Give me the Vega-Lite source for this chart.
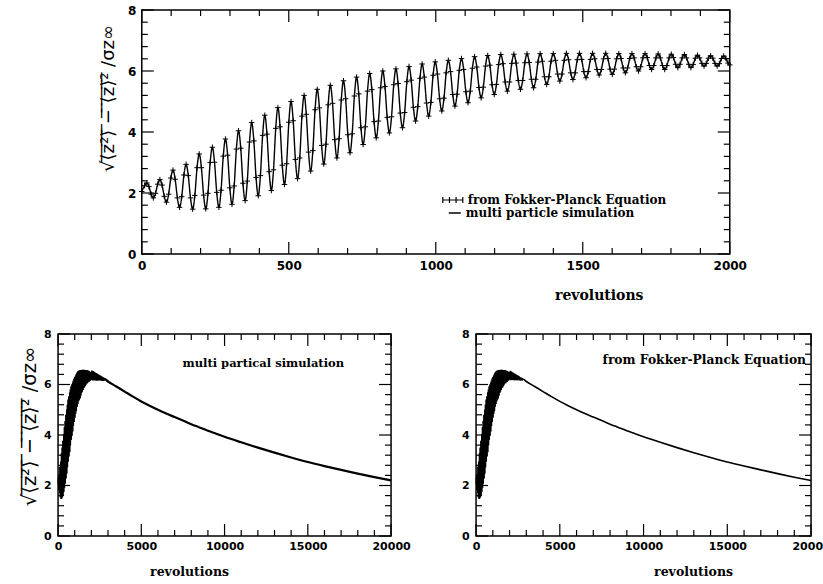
{
"$schema":"https://vega.github.io/schema/vega-lite/v6.json",
"background":"white",
"padding":{"left":18,"top":3,"right":0,"bottom":0},
"config":{
"view":{"stroke":"black","strokeWidth":1.5},
"axis":{"domain":false,"ticks":false,"grid":false,"labelFont":"DejaVu Sans","labelFontWeight":"bold","labelColor":"black","labelFontSize":12,"labelFlush":false,"labelOverlap":false,"titleFont":"DejaVu Serif","titleFontWeight":"bold","titleFontSize":12.5,"titleColor":"black"},
"legend":{"labelFont":"DejaVu Serif","labelFontWeight":"bold","labelFontSize":12,"labelColor":"black","padding":0,"rowPadding":0,"labelLimit":0,"labelOffset":4},
"title":{"font":"DejaVu Serif","fontWeight":"bold","fontSize":12,"color":"black"}
},
"datasets":{
"xmajT":[{"t":0},{"t":500},{"t":1000},{"t":1500},{"t":2000}],
"xminT":[{"t":100},{"t":200},{"t":300},{"t":400},{"t":600},{"t":700},{"t":800},{"t":900},{"t":1100},{"t":1200},{"t":1300},{"t":1400},{"t":1600},{"t":1700},{"t":1800},{"t":1900}],
"xmajB":[{"t":0},{"t":5000},{"t":10000},{"t":15000},{"t":20000}],
"xminB":[{"t":1000},{"t":2000},{"t":3000},{"t":4000},{"t":6000},{"t":7000},{"t":8000},{"t":9000},{"t":11000},{"t":12000},{"t":13000},{"t":14000},{"t":16000},{"t":17000},{"t":18000},{"t":19000}],
"ymaj":[{"v":0},{"v":2},{"v":4},{"v":6},{"v":8}],
"ymin":[{"v":0.4},{"v":0.8},{"v":1.2},{"v":1.6},{"v":2.4},{"v":2.8},{"v":3.2},{"v":3.6},{"v":4.4},{"v":4.8},{"v":5.2},{"v":5.6},{"v":6.4},{"v":6.8},{"v":7.2},{"v":7.6}],
"early":[
{"r":0,"y":2.05},{"r":9.6,"y":2.24},
{"r":17,"y":2.33},{"r":24.4,"y":2.21},{"r":31.9,"y":1.96},{"r":39.3,"y":1.84},{"r":46.7,"y":1.99},{"r":54.2,"y":2.29},
{"r":61.6,"y":2.44},{"r":69,"y":2.26},{"r":76.5,"y":1.89},{"r":83.9,"y":1.7},{"r":91.3,"y":1.96},{"r":98.8,"y":2.49},
{"r":106.2,"y":2.75},{"r":113.6,"y":2.45},{"r":121.1,"y":1.84},{"r":128.5,"y":1.53},{"r":135.9,"y":1.88},{"r":143.4,"y":2.59},
{"r":150.8,"y":2.94},{"r":158.2,"y":2.57},{"r":165.7,"y":1.84},{"r":173.1,"y":1.47},{"r":180.5,"y":1.92},{"r":188,"y":2.83},
{"r":195.4,"y":3.28},{"r":202.8,"y":2.83},{"r":210.3,"y":1.93},{"r":217.7,"y":1.48},{"r":225.1,"y":1.99},{"r":232.6,"y":3.0},
{"r":240,"y":3.5},{"r":247.4,"y":3.01},{"r":254.9,"y":2.02},{"r":262.3,"y":1.53},{"r":269.7,"y":2.09},{"r":277.2,"y":3.21},
{"r":284.6,"y":3.77},{"r":292,"y":3.24},{"r":299.5,"y":2.17},{"r":306.9,"y":1.63},{"r":314.3,"y":2.23},{"r":321.8,"y":3.44},
{"r":329.2,"y":4.04},{"r":336.6,"y":3.47},{"r":344.1,"y":2.32},{"r":351.5,"y":1.75},{"r":358.9,"y":2.39},{"r":366.4,"y":3.67},
{"r":373.8,"y":4.31},{"r":381.2,"y":3.71},{"r":388.7,"y":2.51},{"r":396.1,"y":1.91},{"r":403.5,"y":2.57},{"r":411,"y":3.89},
{"r":418.4,"y":4.55},{"r":425.8,"y":3.93},{"r":433.3,"y":2.7},{"r":440.7,"y":2.08},{"r":448.1,"y":2.76},{"r":455.6,"y":4.12},
{"r":463,"y":4.8},{"r":470.4,"y":4.17},{"r":477.9,"y":2.91},{"r":485.3,"y":2.28},{"r":492.7,"y":2.96},{"r":500.2,"y":4.32},
{"r":507.6,"y":5.0},{"r":515,"y":4.37},{"r":522.5,"y":3.1},{"r":529.9,"y":2.47},{"r":537.3,"y":3.15},{"r":544.8,"y":4.52},
{"r":552.2,"y":5.2},{"r":559.6,"y":4.58},{"r":567.1,"y":3.34},{"r":574.5,"y":2.72},{"r":581.9,"y":3.39},{"r":589.4,"y":4.73},
{"r":596.8,"y":5.4},{"r":604.2,"y":4.79},{"r":611.7,"y":3.56},{"r":619.1,"y":2.95},{"r":626.5,"y":3.6},{"r":634,"y":4.89},
{"r":641.4,"y":5.53},{"r":648.8,"y":4.94},{"r":656.3,"y":3.75},{"r":663.7,"y":3.15},{"r":671.1,"y":3.78},{"r":678.6,"y":5.05},
{"r":686,"y":5.68},{"r":693.4,"y":5.09},{"r":700.9,"y":3.91},{"r":708.3,"y":3.32},{"r":715.7,"y":3.94},{"r":723.2,"y":5.18},
{"r":730.6,"y":5.8},{"r":738,"y":5.25},{"r":745.5,"y":4.14},{"r":752.9,"y":3.59},{"r":760.3,"y":4.17},{"r":767.8,"y":5.34},
{"r":775.2,"y":5.92},{"r":782.6,"y":5.39},{"r":790.1,"y":4.34},{"r":797.5,"y":3.81},{"r":804.9,"y":4.36},{"r":812.4,"y":5.45},
{"r":819.8,"y":6.0},{"r":827.2,"y":5.49},{"r":834.7,"y":4.48},{"r":842.1,"y":3.97},{"r":849.5,"y":4.5},{"r":857,"y":5.55},
{"r":864.4,"y":6.07},{"r":871.8,"y":5.59},{"r":879.3,"y":4.62},{"r":886.7,"y":4.14},{"r":894.1,"y":4.64},{"r":901.6,"y":5.65},
{"r":909,"y":6.15},{"r":916.4,"y":5.7},{"r":923.9,"y":4.81},{"r":931.3,"y":4.36},{"r":938.7,"y":4.83},{"r":946.2,"y":5.76},
{"r":953.6,"y":6.23},{"r":961,"y":5.8},{"r":968.5,"y":4.95},{"r":975.9,"y":4.52},{"r":983.3,"y":4.97},{"r":990.8,"y":5.86},
{"r":998.2,"y":6.3},{"r":1005.6,"y":5.9},{"r":1013.1,"y":5.09},{"r":1020.5,"y":4.69},{"r":1027.9,"y":5.11},{"r":1035.4,"y":5.94},
{"r":1042.8,"y":6.35},{"r":1050.2,"y":5.98},{"r":1057.7,"y":5.23},{"r":1065.1,"y":4.85},{"r":1072.5,"y":5.24},{"r":1080,"y":6.02},
{"r":1087.4,"y":6.41},{"r":1094.8,"y":6.05},{"r":1102.3,"y":5.32},{"r":1109.7,"y":4.96},{"r":1117.1,"y":5.34},{"r":1124.6,"y":6.09},
{"r":1132,"y":6.47},{"r":1139.4,"y":6.13},{"r":1146.9,"y":5.46},{"r":1154.3,"y":5.12},{"r":1161.7,"y":5.47},{"r":1169.2,"y":6.16},
{"r":1176.6,"y":6.51},{"r":1184,"y":6.19},{"r":1191.5,"y":5.55},{"r":1198.9,"y":5.23},{"r":1206.3,"y":5.56},{"r":1213.8,"y":6.21},
{"r":1221.2,"y":6.54},{"r":1228.6,"y":6.24},{"r":1236.1,"y":5.64},{"r":1243.5,"y":5.34},{"r":1250.9,"y":5.64},{"r":1258.4,"y":6.25},
{"r":1265.8,"y":6.55},{"r":1273.2,"y":6.26},{"r":1280.7,"y":5.69},{"r":1288.1,"y":5.4},{"r":1295.5,"y":5.69},{"r":1303,"y":6.27},
{"r":1310.4,"y":6.56},{"r":1317.8,"y":6.28},{"r":1325.3,"y":5.73},{"r":1332.7,"y":5.45},{"r":1340.1,"y":5.73},{"r":1347.6,"y":6.29},
{"r":1355,"y":6.57},{"r":1362.4,"y":6.32},{"r":1369.9,"y":5.81},{"r":1377.3,"y":5.56},{"r":1384.7,"y":5.81},{"r":1392.2,"y":6.32},
{"r":1399.6,"y":6.57},{"r":1407,"y":6.35},{"r":1414.5,"y":5.9},{"r":1421.9,"y":5.67},{"r":1429.3,"y":5.9},{"r":1436.8,"y":6.35},
{"r":1444.2,"y":6.58},{"r":1451.6,"y":6.37},{"r":1459.1,"y":5.94},{"r":1466.5,"y":5.72},{"r":1473.9,"y":5.94},{"r":1481.4,"y":6.37},
{"r":1488.8,"y":6.58},{"r":1496.2,"y":6.38},{"r":1503.7,"y":5.98},{"r":1511.1,"y":5.78},{"r":1518.5,"y":5.98},{"r":1526,"y":6.38},
{"r":1533.4,"y":6.58},{"r":1540.8,"y":6.4},{"r":1548.3,"y":6.05},{"r":1555.7,"y":5.87},{"r":1563.1,"y":6.05},{"r":1570.6,"y":6.4},
{"r":1578,"y":6.58},{"r":1585.4,"y":6.41},{"r":1592.9,"y":6.06},{"r":1600.3,"y":5.89},{"r":1607.7,"y":6.06},{"r":1615.2,"y":6.4},
{"r":1622.6,"y":6.57},{"r":1630,"y":6.41},{"r":1637.5,"y":6.1},{"r":1644.9,"y":5.94},{"r":1652.3,"y":6.1},{"r":1659.8,"y":6.41},
{"r":1667.2,"y":6.57},{"r":1674.6,"y":6.43},{"r":1682.1,"y":6.14},{"r":1689.5,"y":6.0},{"r":1696.9,"y":6.14},{"r":1704.4,"y":6.43},
{"r":1711.8,"y":6.57},{"r":1719.2,"y":6.44},{"r":1726.7,"y":6.18},{"r":1734.1,"y":6.05},{"r":1741.5,"y":6.18},{"r":1749,"y":6.43},
{"r":1756.4,"y":6.56},{"r":1763.8,"y":6.43},{"r":1771.3,"y":6.18},{"r":1778.7,"y":6.05},{"r":1786.1,"y":6.18},{"r":1793.6,"y":6.43},
{"r":1801,"y":6.55},{"r":1808.4,"y":6.44},{"r":1815.9,"y":6.22},{"r":1823.3,"y":6.11},{"r":1830.7,"y":6.22},{"r":1838.2,"y":6.43},
{"r":1845.6,"y":6.54},{"r":1853,"y":6.43},{"r":1860.5,"y":6.22},{"r":1867.9,"y":6.11},{"r":1875.3,"y":6.21},{"r":1882.8,"y":6.42},
{"r":1890.2,"y":6.52},{"r":1897.6,"y":6.43},{"r":1905.1,"y":6.25},{"r":1912.5,"y":6.16},{"r":1919.9,"y":6.25},{"r":1927.4,"y":6.42},
{"r":1934.8,"y":6.5},{"r":1942.2,"y":6.42},{"r":1949.7,"y":6.25},{"r":1957.1,"y":6.16},{"r":1964.5,"y":6.24},{"r":1972,"y":6.41},
{"r":1979.4,"y":6.49},{"r":1986.8,"y":6.41},{"r":1994.3,"y":6.26},{"r":2000,"y":6.2}
],
"tail":[
{"r":2000,"y":6.2},{"r":2024,"y":6.52},{"r":2046.3,"y":6.2},{"r":2068.6,"y":6.5},{"r":2090.9,"y":6.2},{"r":2113.2,"y":6.49},{"r":2135.5,"y":6.2},{"r":2157.8,"y":6.47},{"r":2180.1,"y":6.2},{"r":2202.4,"y":6.45},{"r":2224.7,"y":6.2},{"r":2247,"y":6.43},{"r":2269.3,"y":6.19},{"r":2291.6,"y":6.41},{"r":2313.9,"y":6.19},{"r":2336.2,"y":6.4},{"r":2358.5,"y":6.19},{"r":2380.8,"y":6.38},{"r":2403.1,"y":6.19},{"r":2425.4,"y":6.36},{"r":2447.7,"y":6.19},{"r":2470,"y":6.34},{"r":2492.3,"y":6.19},{"r":2514.6,"y":6.33},{"r":2536.9,"y":6.19},{"r":2559.2,"y":6.31},{"r":2581.5,"y":6.19},{"r":2603.8,"y":6.29},{"r":2626.1,"y":6.18},{"r":2648.4,"y":6.27},{"r":2670.7,"y":6.18},{"r":2693,"y":6.26},{"r":2715.3,"y":6.18},{"r":2737.6,"y":6.24},{"r":2759.9,"y":6.18},{"r":2782.2,"y":6.22},
{"r":3000,"y":6.12},{"r":3500,"y":5.92},{"r":4000,"y":5.72},{"r":4500,"y":5.52},{"r":5000,"y":5.33},{"r":5500,"y":5.16},{"r":6000,"y":5.0},{"r":6500,"y":4.85},{"r":7000,"y":4.71},{"r":7500,"y":4.57},{"r":8000,"y":4.43},{"r":8500,"y":4.3},{"r":9000,"y":4.17},{"r":9500,"y":4.05},{"r":10000,"y":3.93},{"r":11000,"y":3.71},{"r":12000,"y":3.5},{"r":13000,"y":3.3},{"r":14000,"y":3.11},{"r":15000,"y":2.93},{"r":16000,"y":2.77},{"r":17000,"y":2.62},{"r":18000,"y":2.47},{"r":19000,"y":2.33},{"r":20000,"y":2.2}
]
},
"spacing":24,
"center":true,
"resolve":{"legend":{"shape":"independent","strokeDash":"independent"}},
"vconcat":[
{
"width":588,"height":244,
"layer":[
{"data":{"name":"early"},"mark":{"type":"line","color":"black","strokeWidth":1.4,"interpolate":"monotone"},
"encoding":{
"x":{"field":"r","type":"quantitative","scale":{"domain":[0,2000],"nice":false,"zero":false},"axis":{"orient":"bottom","values":[0,500,1000,1500,2000],"labelPadding":6,"format":"d","title":"revolutions","titleX":457,"titleY":34,"titleAlign":"center","titleBaseline":"top","titleFontSize":14}},
"y":{"field":"y","type":"quantitative","scale":{"domain":[0,8],"nice":false,"zero":false},"axis":{"orient":"left","values":[0,2,4,6,8],"labelPadding":6,"format":"d","title":"\u221A\u27E8\u0305z\u0305\u00B2\u0305\u27E9\u0305 \u0305\u2212\u0305 \u0305\u27E8\u0305z\u0305\u27E9\u0305\u00B2\u0305 /\u03C3z\u221E","titleX":-33,"titleY":88,"titleAlign":"center","titleBaseline":"middle","titleFont":"DejaVu Sans","titleFontWeight":"normal","titleFontSize":18}},
"strokeDash":{"datum":"multi particle simulation","scale":{"range":[[1,0]]},"legend":{"orient":"none","legendX":306,"legendY":196,"title":null,"symbolType":"stroke","symbolSize":144,"symbolStrokeWidth":1.5,"symbolStrokeColor":"black"}}
}},
{"data":{"name":"early"},"mark":{"type":"point","color":"black","filled":false,"strokeWidth":1,"size":30,"opacity":1,"shape":"M-1,0H1M0,-1V1"},
"encoding":{
"x":{"field":"r","type":"quantitative","scale":{"domain":[0,2000],"nice":false,"zero":false},"axis":{"orient":"top","values":[0,500,1000,1500,2000],"labels":false,"title":null}},
"y":{"field":"y","type":"quantitative","scale":{"domain":[0,8],"nice":false,"zero":false},"axis":{"orient":"right","values":[0,2,4,6,8],"labels":false,"title":null}}
}},
{"data":{"name":"early"},"mark":{"type":"point","opacity":0,"filled":false},
"encoding":{
"x":{"field":"r","type":"quantitative","scale":{"domain":[0,2000],"nice":false,"zero":false},"axis":null},
"y":{"field":"y","type":"quantitative","scale":{"domain":[0,8],"nice":false,"zero":false},"axis":null},
"shape":{"datum":"from Fokker-Planck Equation","scale":{"range":["M-1,0H1M-1,-0.3V0.3M-0.33,-0.3V0.3M0.33,-0.3V0.3M1,-0.3V0.3"]},"legend":{"orient":"none","legendX":300,"legendY":179,"title":null,"symbolSize":400,"symbolOpacity":1,"symbolStrokeWidth":1.2,"symbolStrokeColor":"black","symbolFillColor":"transparent"}}
}},
{"data":{"name":"xmajT"},"mark":{"type":"point","shape":"M0,0V-1","size":576,"filled":false,"color":"black","strokeWidth":1.2,"opacity":1},"encoding":{"x":{"field":"t","type":"quantitative","scale":{"domain":[0,2000],"nice":false,"zero":false},"axis":null},"y":{"datum":0,"type":"quantitative","scale":{"domain":[0,8],"nice":false,"zero":false},"axis":null}}},
{"data":{"name":"xmajT"},"mark":{"type":"point","shape":"M0,0V1","size":576,"filled":false,"color":"black","strokeWidth":1.2,"opacity":1},"encoding":{"x":{"field":"t","type":"quantitative","scale":{"domain":[0,2000],"nice":false,"zero":false},"axis":null},"y":{"datum":8,"type":"quantitative","scale":{"domain":[0,8],"nice":false,"zero":false},"axis":null}}},
{"data":{"name":"xminT"},"mark":{"type":"point","shape":"M0,0V-1","size":144,"filled":false,"color":"black","strokeWidth":1.2,"opacity":1},"encoding":{"x":{"field":"t","type":"quantitative","scale":{"domain":[0,2000],"nice":false,"zero":false},"axis":null},"y":{"datum":0,"type":"quantitative","scale":{"domain":[0,8],"nice":false,"zero":false},"axis":null}}},
{"data":{"name":"xminT"},"mark":{"type":"point","shape":"M0,0V1","size":144,"filled":false,"color":"black","strokeWidth":1.2,"opacity":1},"encoding":{"x":{"field":"t","type":"quantitative","scale":{"domain":[0,2000],"nice":false,"zero":false},"axis":null},"y":{"datum":8,"type":"quantitative","scale":{"domain":[0,8],"nice":false,"zero":false},"axis":null}}},
{"data":{"name":"ymaj"},"mark":{"type":"point","shape":"M0,0H1","size":576,"filled":false,"color":"black","strokeWidth":1.2,"opacity":1},"encoding":{"x":{"datum":0,"type":"quantitative","scale":{"domain":[0,2000],"nice":false,"zero":false},"axis":null},"y":{"field":"v","type":"quantitative","scale":{"domain":[0,8],"nice":false,"zero":false},"axis":null}}},
{"data":{"name":"ymaj"},"mark":{"type":"point","shape":"M0,0H-1","size":576,"filled":false,"color":"black","strokeWidth":1.2,"opacity":1},"encoding":{"x":{"datum":2000,"type":"quantitative","scale":{"domain":[0,2000],"nice":false,"zero":false},"axis":null},"y":{"field":"v","type":"quantitative","scale":{"domain":[0,8],"nice":false,"zero":false},"axis":null}}},
{"data":{"name":"ymin"},"mark":{"type":"point","shape":"M0,0H1","size":144,"filled":false,"color":"black","strokeWidth":1.2,"opacity":1},"encoding":{"x":{"datum":0,"type":"quantitative","scale":{"domain":[0,2000],"nice":false,"zero":false},"axis":null},"y":{"field":"v","type":"quantitative","scale":{"domain":[0,8],"nice":false,"zero":false},"axis":null}}},
{"data":{"name":"ymin"},"mark":{"type":"point","shape":"M0,0H-1","size":144,"filled":false,"color":"black","strokeWidth":1.2,"opacity":1},"encoding":{"x":{"datum":2000,"type":"quantitative","scale":{"domain":[0,2000],"nice":false,"zero":false},"axis":null},"y":{"field":"v","type":"quantitative","scale":{"domain":[0,8],"nice":false,"zero":false},"axis":null}}}
]
},
{
"spacing":49,
"hconcat":[
{
"width":333,"height":202,
"title":{"text":"multi partical simulation","anchor":"end","frame":"group","orient":"top","offset":0,"dx":-47,"dy":50,"baseline":"alphabetic","fontSize":11.5},
"layer":[
{"data":{"name":"early"},"mark":{"type":"line","color":"black","strokeWidth":1},
"encoding":{
"x":{"field":"r","type":"quantitative","scale":{"domain":[0,20000],"nice":false,"zero":false},"axis":{"orient":"bottom","values":[0,5000,10000,15000,20000],"labelPadding":4,"labelFontSize":11,"format":"d","title":"revolutions","titleX":131,"titleY":29,"titleAlign":"center","titleBaseline":"top"}},
"y":{"field":"y","type":"quantitative","scale":{"domain":[0,8],"nice":false,"zero":false},"axis":{"orient":"left","values":[0,2,4,6,8],"labelPadding":7,"labelFontSize":11,"format":"d","title":"\u221A\u27E8\u0305z\u0305\u00B2\u0305\u27E9\u0305 \u0305\u2212\u0305 \u0305\u27E8\u0305z\u0305\u27E9\u0305\u00B2\u0305 /\u03C3z\u221E","titleX":-29,"titleY":92,"titleAlign":"center","titleBaseline":"middle","titleFont":"DejaVu Sans","titleFontWeight":"normal","titleFontSize":19.5}}
}},
{"data":{"name":"tail"},"mark":{"type":"line","color":"black","strokeWidth":2.2,"interpolate":"monotone"},
"encoding":{
"x":{"field":"r","type":"quantitative","scale":{"domain":[0,20000],"nice":false,"zero":false},"axis":{"orient":"top","values":[0,5000,10000,15000,20000],"labels":false,"title":null}},
"y":{"field":"y","type":"quantitative","scale":{"domain":[0,8],"nice":false,"zero":false},"axis":{"orient":"right","values":[0,2,4,6,8],"labels":false,"title":null}}
}},
{"data":{"name":"xmajB"},"mark":{"type":"point","shape":"M0,0V-1","size":576,"filled":false,"color":"black","strokeWidth":1.2,"opacity":1},"encoding":{"x":{"field":"t","type":"quantitative","scale":{"domain":[0,20000],"nice":false,"zero":false},"axis":null},"y":{"datum":0,"type":"quantitative","scale":{"domain":[0,8],"nice":false,"zero":false},"axis":null}}},
{"data":{"name":"xmajB"},"mark":{"type":"point","shape":"M0,0V1","size":576,"filled":false,"color":"black","strokeWidth":1.2,"opacity":1},"encoding":{"x":{"field":"t","type":"quantitative","scale":{"domain":[0,20000],"nice":false,"zero":false},"axis":null},"y":{"datum":8,"type":"quantitative","scale":{"domain":[0,8],"nice":false,"zero":false},"axis":null}}},
{"data":{"name":"xminB"},"mark":{"type":"point","shape":"M0,0V-1","size":144,"filled":false,"color":"black","strokeWidth":1.2,"opacity":1},"encoding":{"x":{"field":"t","type":"quantitative","scale":{"domain":[0,20000],"nice":false,"zero":false},"axis":null},"y":{"datum":0,"type":"quantitative","scale":{"domain":[0,8],"nice":false,"zero":false},"axis":null}}},
{"data":{"name":"xminB"},"mark":{"type":"point","shape":"M0,0V1","size":144,"filled":false,"color":"black","strokeWidth":1.2,"opacity":1},"encoding":{"x":{"field":"t","type":"quantitative","scale":{"domain":[0,20000],"nice":false,"zero":false},"axis":null},"y":{"datum":8,"type":"quantitative","scale":{"domain":[0,8],"nice":false,"zero":false},"axis":null}}},
{"data":{"name":"ymaj"},"mark":{"type":"point","shape":"M0,0H1","size":576,"filled":false,"color":"black","strokeWidth":1.2,"opacity":1},"encoding":{"x":{"datum":0,"type":"quantitative","scale":{"domain":[0,20000],"nice":false,"zero":false},"axis":null},"y":{"field":"v","type":"quantitative","scale":{"domain":[0,8],"nice":false,"zero":false},"axis":null}}},
{"data":{"name":"ymaj"},"mark":{"type":"point","shape":"M0,0H-1","size":576,"filled":false,"color":"black","strokeWidth":1.2,"opacity":1},"encoding":{"x":{"datum":20000,"type":"quantitative","scale":{"domain":[0,20000],"nice":false,"zero":false},"axis":null},"y":{"field":"v","type":"quantitative","scale":{"domain":[0,8],"nice":false,"zero":false},"axis":null}}},
{"data":{"name":"ymin"},"mark":{"type":"point","shape":"M0,0H1","size":144,"filled":false,"color":"black","strokeWidth":1.2,"opacity":1},"encoding":{"x":{"datum":0,"type":"quantitative","scale":{"domain":[0,20000],"nice":false,"zero":false},"axis":null},"y":{"field":"v","type":"quantitative","scale":{"domain":[0,8],"nice":false,"zero":false},"axis":null}}},
{"data":{"name":"ymin"},"mark":{"type":"point","shape":"M0,0H-1","size":144,"filled":false,"color":"black","strokeWidth":1.2,"opacity":1},"encoding":{"x":{"datum":20000,"type":"quantitative","scale":{"domain":[0,20000],"nice":false,"zero":false},"axis":null},"y":{"field":"v","type":"quantitative","scale":{"domain":[0,8],"nice":false,"zero":false},"axis":null}}}
]
},
{
"width":335,"height":202,
"title":{"text":"from Fokker-Planck Equation","anchor":"end","frame":"group","orient":"top","offset":0,"dx":-5,"dy":48,"baseline":"alphabetic","fontSize":12.3},
"layer":[
{"data":{"name":"early"},"mark":{"type":"line","color":"black","strokeWidth":1},
"encoding":{
"x":{"field":"r","type":"quantitative","scale":{"domain":[0,20000],"nice":false,"zero":false},"axis":{"orient":"bottom","values":[0,5000,10000,15000,20000],"labelPadding":4,"labelFontSize":11,"format":"d","title":"revolutions","titleX":217,"titleY":29,"titleAlign":"center","titleBaseline":"top"}},
"y":{"field":"y","type":"quantitative","scale":{"domain":[0,8],"nice":false,"zero":false},"axis":{"orient":"left","values":[0,2,4,6,8],"labelPadding":7,"labelFontSize":11,"format":"d","title":null}}
}},
{"data":{"name":"tail"},"mark":{"type":"line","color":"black","strokeWidth":1.6,"interpolate":"monotone"},
"encoding":{
"x":{"field":"r","type":"quantitative","scale":{"domain":[0,20000],"nice":false,"zero":false},"axis":{"orient":"top","values":[0,5000,10000,15000,20000],"labels":false,"title":null}},
"y":{"field":"y","type":"quantitative","scale":{"domain":[0,8],"nice":false,"zero":false},"axis":{"orient":"right","values":[0,2,4,6,8],"labels":false,"title":null}}
}},
{"data":{"name":"xmajB"},"mark":{"type":"point","shape":"M0,0V-1","size":576,"filled":false,"color":"black","strokeWidth":1.2,"opacity":1},"encoding":{"x":{"field":"t","type":"quantitative","scale":{"domain":[0,20000],"nice":false,"zero":false},"axis":null},"y":{"datum":0,"type":"quantitative","scale":{"domain":[0,8],"nice":false,"zero":false},"axis":null}}},
{"data":{"name":"xmajB"},"mark":{"type":"point","shape":"M0,0V1","size":576,"filled":false,"color":"black","strokeWidth":1.2,"opacity":1},"encoding":{"x":{"field":"t","type":"quantitative","scale":{"domain":[0,20000],"nice":false,"zero":false},"axis":null},"y":{"datum":8,"type":"quantitative","scale":{"domain":[0,8],"nice":false,"zero":false},"axis":null}}},
{"data":{"name":"xminB"},"mark":{"type":"point","shape":"M0,0V-1","size":144,"filled":false,"color":"black","strokeWidth":1.2,"opacity":1},"encoding":{"x":{"field":"t","type":"quantitative","scale":{"domain":[0,20000],"nice":false,"zero":false},"axis":null},"y":{"datum":0,"type":"quantitative","scale":{"domain":[0,8],"nice":false,"zero":false},"axis":null}}},
{"data":{"name":"xminB"},"mark":{"type":"point","shape":"M0,0V1","size":144,"filled":false,"color":"black","strokeWidth":1.2,"opacity":1},"encoding":{"x":{"field":"t","type":"quantitative","scale":{"domain":[0,20000],"nice":false,"zero":false},"axis":null},"y":{"datum":8,"type":"quantitative","scale":{"domain":[0,8],"nice":false,"zero":false},"axis":null}}},
{"data":{"name":"ymaj"},"mark":{"type":"point","shape":"M0,0H1","size":576,"filled":false,"color":"black","strokeWidth":1.2,"opacity":1},"encoding":{"x":{"datum":0,"type":"quantitative","scale":{"domain":[0,20000],"nice":false,"zero":false},"axis":null},"y":{"field":"v","type":"quantitative","scale":{"domain":[0,8],"nice":false,"zero":false},"axis":null}}},
{"data":{"name":"ymaj"},"mark":{"type":"point","shape":"M0,0H-1","size":576,"filled":false,"color":"black","strokeWidth":1.2,"opacity":1},"encoding":{"x":{"datum":20000,"type":"quantitative","scale":{"domain":[0,20000],"nice":false,"zero":false},"axis":null},"y":{"field":"v","type":"quantitative","scale":{"domain":[0,8],"nice":false,"zero":false},"axis":null}}},
{"data":{"name":"ymin"},"mark":{"type":"point","shape":"M0,0H1","size":144,"filled":false,"color":"black","strokeWidth":1.2,"opacity":1},"encoding":{"x":{"datum":0,"type":"quantitative","scale":{"domain":[0,20000],"nice":false,"zero":false},"axis":null},"y":{"field":"v","type":"quantitative","scale":{"domain":[0,8],"nice":false,"zero":false},"axis":null}}},
{"data":{"name":"ymin"},"mark":{"type":"point","shape":"M0,0H-1","size":144,"filled":false,"color":"black","strokeWidth":1.2,"opacity":1},"encoding":{"x":{"datum":20000,"type":"quantitative","scale":{"domain":[0,20000],"nice":false,"zero":false},"axis":null},"y":{"field":"v","type":"quantitative","scale":{"domain":[0,8],"nice":false,"zero":false},"axis":null}}}
]
}
]
}
]
}
